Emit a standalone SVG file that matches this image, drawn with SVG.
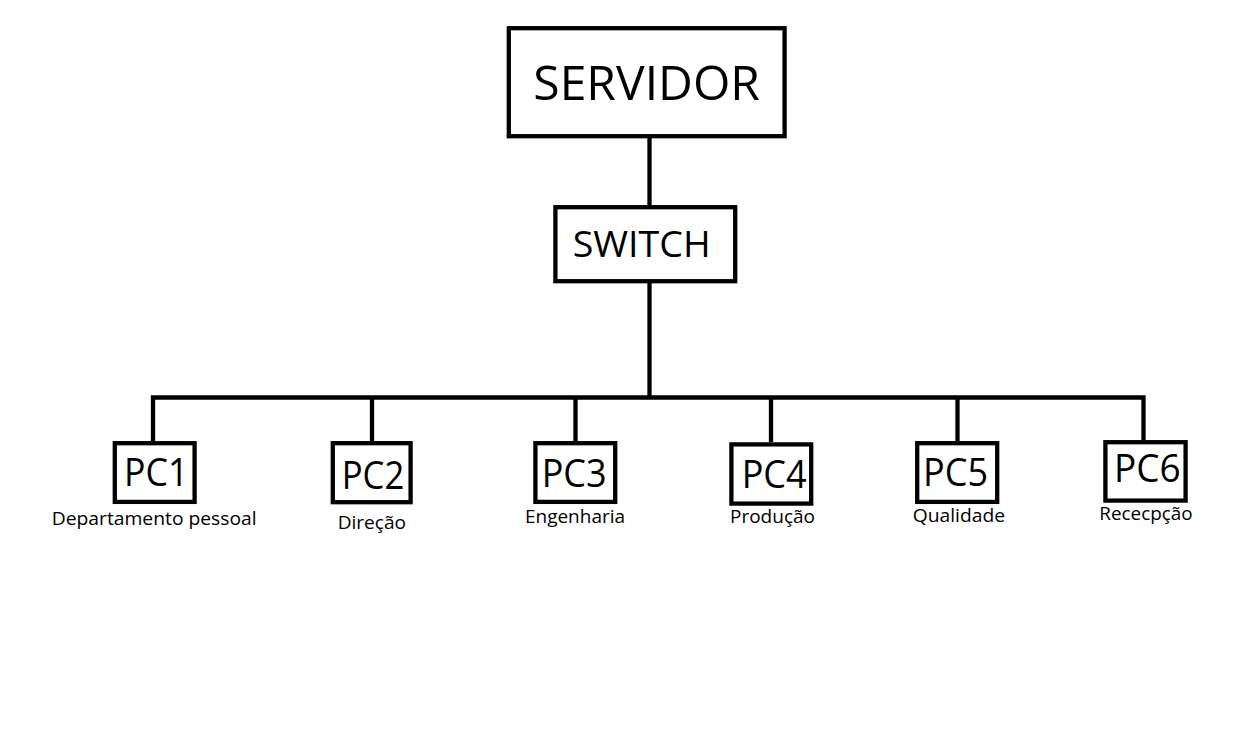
<svg xmlns="http://www.w3.org/2000/svg" width="1240" height="745" viewBox="0 0 1240 745">
<style>
.box{fill:#fff;stroke:#000;stroke-width:4.3}
.wire{fill:none;stroke:#000;stroke-width:4.3;stroke-linejoin:miter;stroke-linecap:butt}
text{font-family:"Open Sans","Noto Sans","DejaVu Sans",sans-serif;fill:#000}
.big{font-size:48px}
.mid{font-size:36px}
.pc{font-size:39px}
.lbl{font-size:18px}
</style>
<rect width="1240" height="745" fill="#fff"/>
<g id="connectors">
<path class="wire" d="M649.5 138 V205"/>
<path class="wire" d="M649.5 283 V397.5"/>
<path class="wire" d="M153 441 V397.5 H1143.5 V440"/>
<path class="wire" d="M372 397.5 V441"/>
<path class="wire" d="M575.5 397.5 V441"/>
<path class="wire" d="M771 397.5 V442"/>
<path class="wire" d="M957.5 397.5 V441"/>
</g>
<g id="servidor">
<rect class="box" x="508.8" y="28.2" width="275.8" height="108"/>
<text class="big" x="533.3" y="100" textLength="226.7" lengthAdjust="spacingAndGlyphs">SERVIDOR</text>
</g>
<g id="switch">
<rect class="box" x="555.4" y="207.2" width="179.8" height="74"/>
<text class="mid" x="572.7" y="256.7" textLength="138" lengthAdjust="spacingAndGlyphs">SWITCH</text>
</g>
<g id="pc1">
<rect class="box" x="114.8" y="443.2" width="79.8" height="58.7"/>
<text class="pc" x="124" y="485.7" textLength="64.3" lengthAdjust="spacingAndGlyphs">PC1</text>
<text class="lbl" x="51.7" y="525" textLength="205" lengthAdjust="spacingAndGlyphs">Departamento pessoal</text>
</g>
<g id="pc2">
<rect class="box" x="332.8" y="443.2" width="77.8" height="59"/>
<text class="pc" x="341.7" y="489.3" textLength="62.6" lengthAdjust="spacingAndGlyphs">PC2</text>
<text class="lbl" x="337.7" y="529.3" textLength="68.3" lengthAdjust="spacingAndGlyphs">Direção</text>
</g>
<g id="pc3">
<rect class="box" x="535.4" y="443.2" width="79.8" height="58.7"/>
<text class="pc" x="541.7" y="486.7" textLength="65" lengthAdjust="spacingAndGlyphs">PC3</text>
<text class="lbl" x="525" y="523.3" textLength="100" lengthAdjust="spacingAndGlyphs">Engenharia</text>
</g>
<g id="pc4">
<rect class="box" x="731.4" y="444.4" width="79.8" height="59.2"/>
<text class="pc" x="741.7" y="488.3" textLength="65" lengthAdjust="spacingAndGlyphs">PC4</text>
<text class="lbl" x="730" y="523.3" textLength="85" lengthAdjust="spacingAndGlyphs">Produção</text>
</g>
<g id="pc5">
<rect class="box" x="917.2" y="443.2" width="80" height="58.7"/>
<text class="pc" x="923" y="485.7" textLength="65" lengthAdjust="spacingAndGlyphs">PC5</text>
<text class="lbl" x="912.7" y="521.7" textLength="92.3" lengthAdjust="spacingAndGlyphs">Qualidade</text>
</g>
<g id="pc6">
<rect class="box" x="1105.4" y="442.2" width="80.2" height="58.4"/>
<text class="pc" x="1114" y="481.7" textLength="66.7" lengthAdjust="spacingAndGlyphs">PC6</text>
<text class="lbl" x="1099.3" y="520" textLength="93.4" lengthAdjust="spacingAndGlyphs">Rececpção</text>
</g>
</svg>
